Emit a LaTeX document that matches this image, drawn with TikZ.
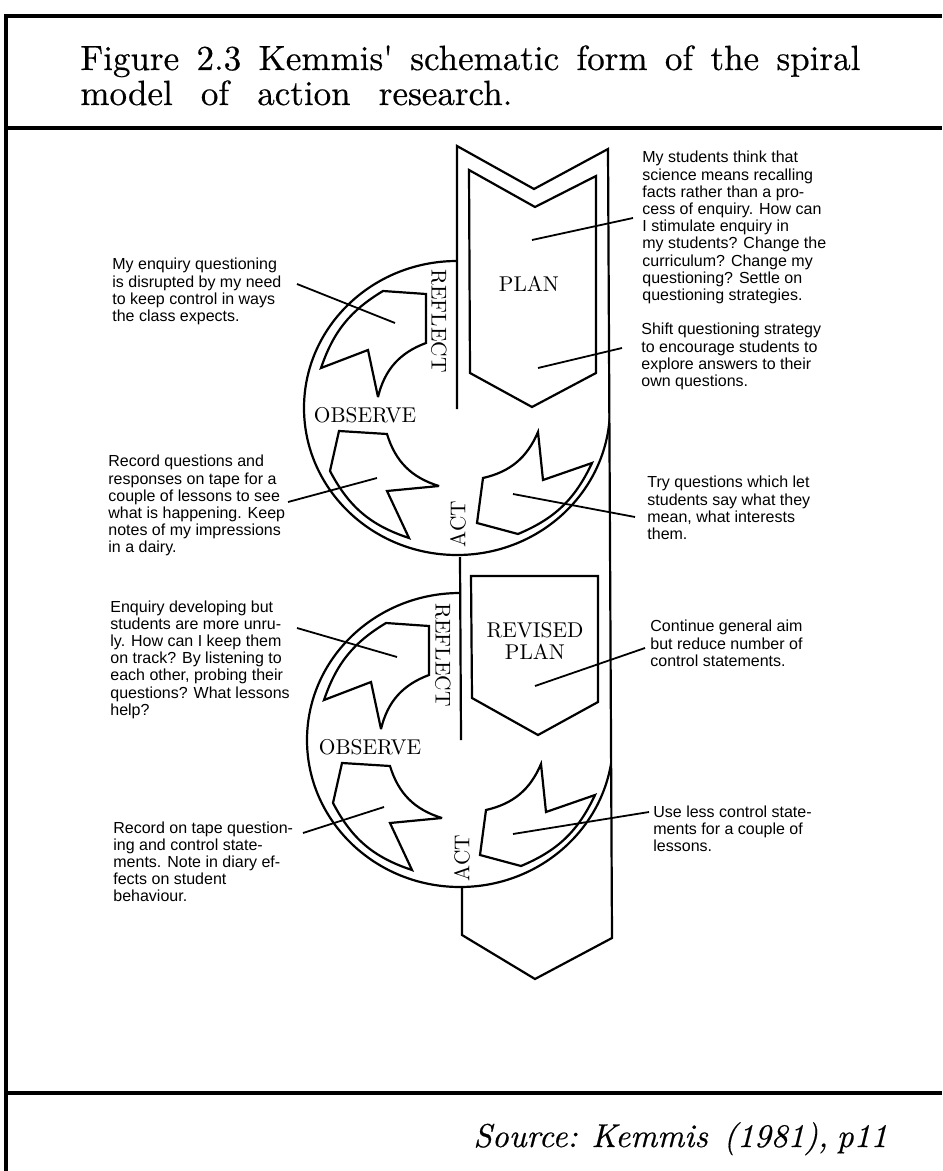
\documentclass[tikz,border=0pt]{standalone}
\usepackage{fontspec}
\newfontfamily\notefont{Liberation Sans}
\newfontfamily\titlefont{lmroman10-regular}[Extension=.otf, FakeBold=0.5]
\newfontfamily\sourcefont{lmroman10-italic}[Extension=.otf, FakeBold=0.4]
\newcommand\kemmisarrows{%
  % reflect arrow
  \draw[shapeline] (321,-368) to[bend left=20] (383,-291) -- (426,-294) -- (426,-343)
     to[bend right=28] (378,-397) -- (368,-350) -- cycle;
  % observe arrow
  \draw[shapeline] (409,-538) to[bend left=22] (330,-471) -- (339,-431) -- (387,-434)
     to[bend right=28] (439,-486) -- (387,-491) -- cycle;
  % act arrow
  \draw[shapeline] (592,-463) to[bend left=21] (518,-534) -- (477,-523) -- (483,-478)
     to[bend right=27] (538,-432) -- (543,-480) -- cycle;
}
\begin{document}
\begin{tikzpicture}[x=0.5pt,y=0.5pt,
  shapeline/.style={draw, line width=1.1pt, line join=miter, miter limit=4},
  leader/.style={line width=0.9pt},
  frameline/.style={line width=2pt},
  note/.style={font=\notefont\fontsize{8}{8.6}\selectfont, align=left, anchor=north west, inner sep=0pt},
  lab/.style={font=\fontsize{10.7}{11}\selectfont, inner sep=0pt, align=center}]
\useasboundingbox (0,0) rectangle (942,-1171);
\fill[white] (0,0) rectangle (942,-1171);

% frame
\draw[frameline] (6,-1171) -- (6,-16) -- (942,-16);
\draw[frameline] (6,-128) -- (942,-128);
\draw[frameline] (6,-1093) -- (942,-1093);

% title and source
\node[anchor=base west, inner sep=0pt, font=\titlefont\fontsize{17.5}{20}\selectfont] (title1) at (80,-70)
  {\makebox[390pt][s]{Figure 2.3 Kemmis' schematic form of the spiral}};
\node[anchor=base west, inner sep=0pt, font=\titlefont\fontsize{17.5}{20}\selectfont] (title2) at (80,-105)
  {\makebox[216pt][s]{model of action research.}};
\node[anchor=base west, inner sep=0pt, font=\sourcefont\fontsize{16.5}{20}\selectfont] (source) at (473,-1147)
  {\makebox[205pt][s]{Source: Kemmis\ \ (1981), p11}};

% strip
\draw[shapeline] (457,-409) -- (457,-146) -- (534,-189) -- (608,-149) -- (612,-938)
   -- (535,-979) -- (462,-935) -- (462,-887);
\draw[shapeline] (460,-557) -- (461,-740);
% plan chevrons
\draw[shapeline] (469,-170) -- (535,-207) -- (596,-176) -- (596,-373) -- (532,-407) -- (470,-373) -- cycle;
\draw[shapeline] (471,-576) -- (598,-576) -- (598,-702) -- (538,-735) -- (472,-698) -- cycle;

% circles
\begin{scope}
  \clip (0,-149) -- (608,-149) -- (612,-938) -- (0,-938) -- cycle;
  \draw[shapeline] (457,-408) ++(90:153 and 147) arc[start angle=90, end angle=360, x radius=153, y radius=147];
  \draw[shapeline] (460,-740) ++(90:153 and 147) arc[start angle=90, end angle=360, x radius=153, y radius=147];
\end{scope}

\kemmisarrows
\begin{scope}[shift={(3,-332)}]
  \kemmisarrows
\end{scope}

% labels
\node[lab] (plan1) at (529,-284) {PLAN};
\node[lab] (plan2) at (535,-641) {REVISED\\PLAN};
\node[lab, rotate=-90] (reflect1) at (439,-321) {REFLECT};
\node[lab, rotate=-90] (reflect2) at (443,-655) {REFLECT};
\node[lab] (observe1) at (365,-415) {OBSERVE};
\node[lab] (observe2) at (370,-747) {OBSERVE};
\node[lab, rotate=90] (act1) at (458,-524) {ACT};
\node[lab, rotate=90] (act2) at (462,-858) {ACT};

% notes
\node[note] (n1) at (642,-151) {My students think that\\science means recalling\\facts rather than a pro-\\cess of enquiry. How can\\I stimulate enquiry in\\my students? Change the\\curriculum? Change my\\questioning? Settle on\\questioning strategies.};
\node[note] (n2) at (641,-323) {Shift questioning strategy\\to encourage students to\\explore answers to their\\own questions.};
\node[note] (n3) at (647,-476) {Try questions which let\\students say what they\\mean, what interests\\them.};
\node[note] (n4) at (650,-620) {Continue general aim\\but reduce number of\\control statements.};
\node[note] (n5) at (653,-805) {Use less control state-\\ments for a couple of\\lessons.};
\node[note] (n6) at (112,-258) {My enquiry questioning\\is disrupted by my need\\to keep control in ways\\the class expects.};
\node[note] (n7) at (108,-455) {Record questions and\\responses on tape for a\\couple of lessons to see\\what is happening. Keep\\notes of my impressions\\in a dairy.};
\node[note] (n8) at (110,-600) {Enquiry developing but\\students are more unru-\\ly. How can I keep them\\on track? By listening to\\each other, probing their\\questions? What lessons\\help?};
\node[note] (n9) at (113,-821) {Record on tape question-\\ing and control state-\\ments. Note in diary ef-\\fects on student\\behaviour.};

% leader coordinates
\coordinate (a1) at (532,-240); \coordinate (b1) at (633,-218);
\coordinate (a2) at (538,-368); \coordinate (b2) at (622,-348);
\coordinate (a3) at (513,-494); \coordinate (b3) at (635,-517);
\coordinate (a4) at (535,-686); \coordinate (b4) at (645,-648);
\coordinate (a5) at (513,-834); \coordinate (b5) at (649,-812);
\coordinate (a6) at (395,-323); \coordinate (b6) at (297,-284);
\coordinate (a7) at (377,-478); \coordinate (b7) at (288,-502);
\coordinate (a8) at (397,-657); \coordinate (b8) at (297,-628);
\coordinate (a9) at (384,-807); \coordinate (b9) at (303,-833);
\foreach \i in {1,...,9} {\draw[leader] (a\i) -- (b\i);}
\end{tikzpicture}
\end{document}
